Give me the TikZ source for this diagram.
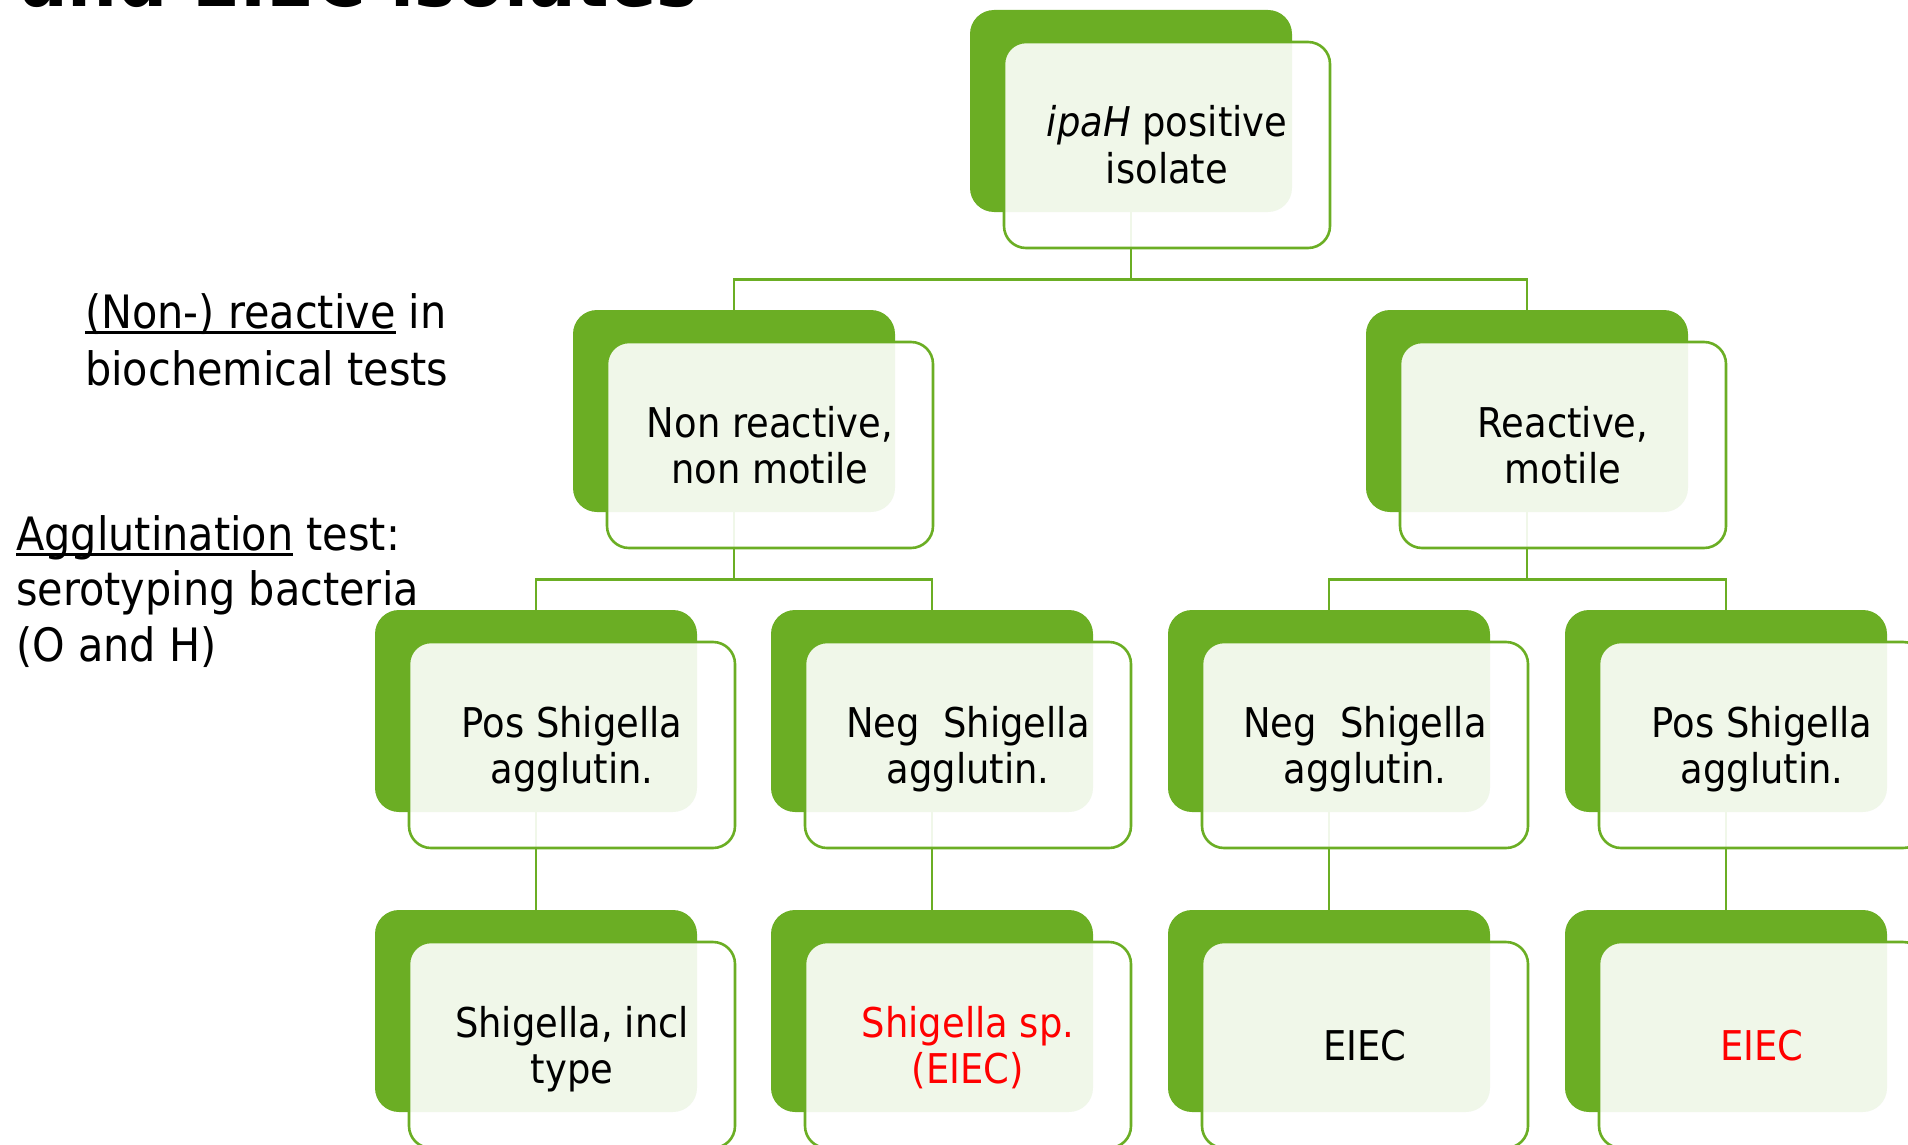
\documentclass[tikz,border=0pt]{standalone}
\usepackage{fontspec}
\setmainfont{DejaVu Sans}[FakeStretch=0.9]
\usetikzlibrary{backgrounds,calc}
\definecolor{sagreen}{RGB}{107,174,36}
\definecolor{sared}{RGB}{255,0,0}
\newsavebox\ulbox
\newcommand\myul[1]{\sbox\ulbox{#1}\rlap{\rule[-6pt]{\wd\ulbox}{2.6pt}}\usebox\ulbox}
\tikzset{
  gbox/.style={fill=sagreen, draw=none, rounded corners=24pt, minimum width=322pt, minimum height=202pt, inner sep=0pt},
  obox/.style={fill=white, fill opacity=0.9, draw=sagreen, draw opacity=1, line width=2.6pt, rounded corners=22pt, minimum width=326pt, minimum height=206pt, inner sep=0pt},
  conn/.style={draw=sagreen, line width=2.8pt},
  btxt/.style={anchor=base, inner sep=0pt, font=\fontsize{41}{46}\selectfont},
  ltxt/.style={anchor=base west, inner sep=0pt, font=\fontsize{46}{56}\selectfont},
}
% #1 name, #2 left, #3 top
\newcommand\dbox[3]{%
  \node[gbox] (g#1) at (#2+161,#3+101) {};
  \node[obox] (o#1) at (#2+197,#3+135) {};
}
\newcommand\twolines[3]{%
  \node[btxt] (t#1a) at ($(o#1.center)+(0,-8)$) {#2};
  \node[btxt] (t#1b) at ($(o#1.center)+(0,38)$) {#3};
}
\newcommand\oneline[2]{%
  \node[btxt] (t#1a) at ($(o#1.center)+(0,15)$) {#2};
}
\begin{document}
\begin{tikzpicture}[x=1pt,y=-1pt]
\useasboundingbox (0,0) rectangle (1908,1145);
\clip (0,0) rectangle (1908,1145);

% title (cut off at the top, as in the reference)
\node[anchor=base west, inner sep=0pt, font=\bfseries\fontsize{78}{80}\selectfont] (title) at (20,7) {and EIEC isolates};

% left texts
\node[ltxt] (l1a) at (85,328) {\myul{(Non-) reactive} in};
\node[ltxt] (l1b) at (85,385) {biochemical tests};
\node[ltxt] (l2a) at (16,550) {\myul{Agglutination} test:};
\node[ltxt] (l2b) at (16,605) {serotyping bacteria};
\node[ltxt] (l2c) at (16,661) {(O and H)};

% boxes
\dbox{A}{970}{10}
\dbox{B}{573}{310}
\dbox{C}{1366}{310}
\dbox{D}{375}{610}
\dbox{E}{771}{610}
\dbox{F}{1168}{610}
\dbox{G}{1565}{610}
\dbox{H}{375}{910}
\dbox{I}{771}{910}
\dbox{J}{1168}{910}
\dbox{K}{1565}{910}

% texts
\twolines{A}{\textit{ipaH} positive}{isolate}
\twolines{B}{Non reactive,}{non motile}
\twolines{C}{Reactive,}{motile}
\twolines{D}{Pos Shigella}{agglutin.}
\twolines{E}{Neg\ \ Shigella}{agglutin.}
\twolines{F}{Neg\ \ Shigella}{agglutin.}
\twolines{G}{Pos Shigella}{agglutin.}
\twolines{H}{Shigella, incl}{type}
\twolines{I}{\color{sared}Shigella sp.}{\color{sared}(EIEC)}
\oneline{J}{EIEC}
\oneline{K}{\color{sared}EIEC}

% connectors
\coordinate (m1) at ($(oA.south)!0.5!(gB.north)$);
\coordinate (m2) at ($(oB.south)!0.5!(gD.north)$);
\begin{pgfonlayer}{background}
  \draw[conn] (gA.south) -- (gA.south |- m1);
  \draw[conn] (gB.north) |- (gA.south |- m1) -| (gC.north);
  \draw[conn] (gB.south) -- (gB.south |- m2);
  \draw[conn] (gD.north) |- (gB.south |- m2) -| (gE.north);
  \draw[conn] (gC.south) -- (gC.south |- m2);
  \draw[conn] (gF.north) |- (gC.south |- m2) -| (gG.north);
  \draw[conn] (gD.south) -- (gH.north);
  \draw[conn] (gE.south) -- (gI.north);
  \draw[conn] (gF.south) -- (gJ.north);
  \draw[conn] (gG.south) -- (gK.north);
\end{pgfonlayer}
\end{tikzpicture}
\end{document}
